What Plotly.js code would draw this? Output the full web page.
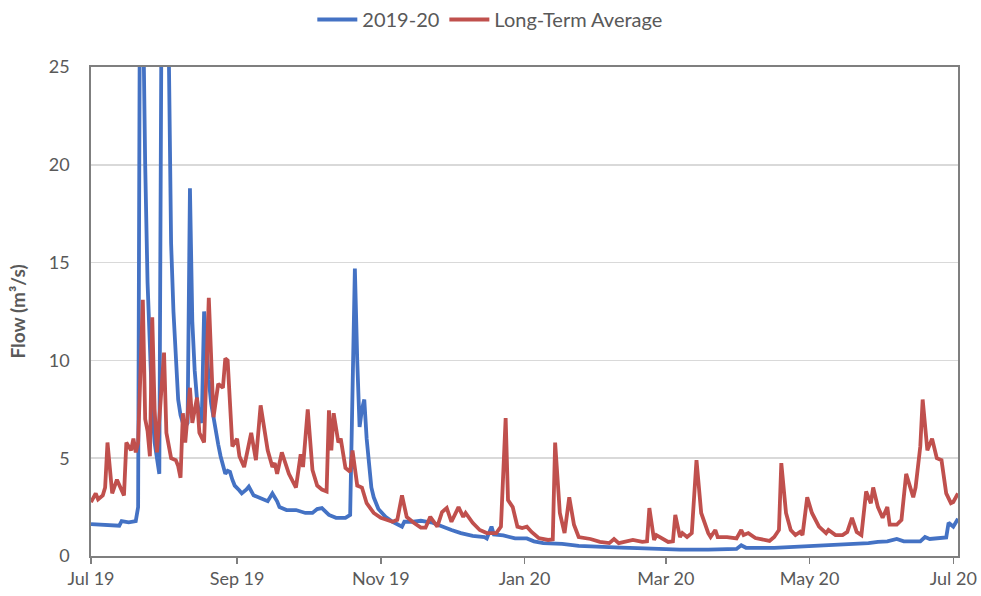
<!DOCTYPE html>
<html>
<head>
<meta charset="utf-8">
<script src="https://cdn.plot.ly/plotly-3.0.1.min.js"></script>
<style>html,body{margin:0;padding:0;background:#fff;}#chart{width:981px;height:596px;}</style>
</head>
<body>
<div id="chart"></div>
<script>
const dates2019 = ['2019-07-01','2019-07-07','2019-07-13','2019-07-14','2019-07-17','2019-07-20','2019-07-21','2019-07-22','2019-07-23','2019-07-24','2019-07-25','2019-07-26','2019-07-27','2019-07-28','2019-07-29','2019-07-30','2019-07-31','2019-08-01','2019-08-02','2019-08-03','2019-08-04','2019-08-05','2019-08-06','2019-08-07','2019-08-08','2019-08-09','2019-08-10','2019-08-11','2019-08-12','2019-08-13','2019-08-14','2019-08-15','2019-08-16','2019-08-17','2019-08-18','2019-08-19','2019-08-20','2019-08-21','2019-08-22','2019-08-23','2019-08-24','2019-08-25','2019-08-26','2019-08-27','2019-08-28','2019-08-29','2019-08-30','2019-08-31','2019-09-02','2019-09-03','2019-09-05','2019-09-06','2019-09-08','2019-09-10','2019-09-12','2019-09-14','2019-09-16','2019-09-18','2019-09-19','2019-09-22','2019-09-26','2019-09-30','2019-10-03','2019-10-05','2019-10-07','2019-10-10','2019-10-13','2019-10-17','2019-10-19','2019-10-20','2019-10-21','2019-10-22','2019-10-23','2019-10-24','2019-10-25','2019-10-26','2019-10-27','2019-10-28','2019-10-29','2019-10-31','2019-11-03','2019-11-06','2019-11-10','2019-11-11','2019-11-14','2019-11-18','2019-11-23','2019-11-27','2019-12-01','2019-12-05','2019-12-10','2019-12-15','2019-12-16','2019-12-18','2019-12-19','2019-12-23','2019-12-28','2020-01-02','2020-01-05','2020-01-09','2020-01-17','2020-01-24','2020-02-01','2020-02-11','2020-02-18','2020-02-26','2020-03-07','2020-03-19','2020-03-27','2020-03-31','2020-04-02','2020-04-04','2020-04-16','2020-04-24','2020-05-06','2020-05-16','2020-05-26','2020-05-30','2020-06-03','2020-06-07','2020-06-10','2020-06-17','2020-06-19','2020-06-21','2020-06-27','2020-06-28','2020-06-29','2020-07-01','2020-07-03'];
const flow2019 = [1.63,1.58,1.55,1.78,1.72,1.78,2.5,38,28,20,14,10,7.5,5.8,4.8,4.2,30,42,35,26,16,12.5,9.8,8,7.2,6.8,6.6,6.8,18.8,12,9.5,8,7.2,6.8,12.5,10.5,9,7.8,7.0,6.3,5.7,5.1,4.6,4.2,4.35,4.3,3.9,3.6,3.35,3.2,3.4,3.55,3.1,3.0,2.95,2.8,3.2,2.8,2.5,2.35,2.35,2.2,2.2,2.4,2.45,2.1,1.95,1.95,2.1,8,14.7,10,6.6,7.5,8.0,6.0,4.5,3.5,3.0,2.4,2.0,1.75,1.5,1.75,1.75,1.8,1.7,1.5,1.33,1.17,1.03,0.97,0.9,1.5,1.1,1.05,0.9,0.9,0.75,0.66,0.62,0.52,0.46,0.43,0.4,0.35,0.33,0.33,0.34,0.36,0.55,0.42,0.42,0.46,0.55,0.6,0.66,0.72,0.75,0.87,0.75,0.75,0.97,0.87,0.92,0.95,1.7,1.5,1.9];

const datesLTA = ['2019-07-01','2019-07-03','2019-07-04','2019-07-06','2019-07-07','2019-07-08','2019-07-10','2019-07-12','2019-07-15','2019-07-16','2019-07-18','2019-07-19','2019-07-20','2019-07-21','2019-07-23','2019-07-24','2019-07-25','2019-07-26','2019-07-27','2019-07-28','2019-07-29','2019-08-01','2019-08-02','2019-08-03','2019-08-04','2019-08-06','2019-08-07','2019-08-08','2019-08-09','2019-08-10','2019-08-12','2019-08-13','2019-08-15','2019-08-16','2019-08-18','2019-08-20','2019-08-22','2019-08-24','2019-08-26','2019-08-27','2019-08-28','2019-08-30','2019-09-01','2019-09-02','2019-09-04','2019-09-07','2019-09-09','2019-09-11','2019-09-14','2019-09-16','2019-09-17','2019-09-18','2019-09-20','2019-09-23','2019-09-26','2019-09-28','2019-09-29','2019-10-01','2019-10-03','2019-10-05','2019-10-07','2019-10-09','2019-10-10','2019-10-11','2019-10-12','2019-10-14','2019-10-15','2019-10-17','2019-10-19','2019-10-20','2019-10-22','2019-10-24','2019-10-26','2019-10-29','2019-11-01','2019-11-06','2019-11-08','2019-11-10','2019-11-12','2019-11-15','2019-11-18','2019-11-20','2019-11-22','2019-11-25','2019-11-27','2019-11-29','2019-12-01','2019-12-04','2019-12-06','2019-12-07','2019-12-10','2019-12-13','2019-12-16','2019-12-20','2019-12-22','2019-12-24','2019-12-25','2019-12-27','2019-12-29','2019-12-31','2020-01-02','2020-01-04','2020-01-07','2020-01-11','2020-01-13','2020-01-14','2020-01-16','2020-01-18','2020-01-20','2020-01-22','2020-01-24','2020-01-29','2020-02-02','2020-02-06','2020-02-08','2020-02-10','2020-02-16','2020-02-20','2020-02-22','2020-02-23','2020-02-25','2020-02-26','2020-03-02','2020-03-04','2020-03-05','2020-03-07','2020-03-08','2020-03-10','2020-03-12','2020-03-14','2020-03-16','2020-03-19','2020-03-20','2020-03-22','2020-03-23','2020-03-27','2020-03-31','2020-04-02','2020-04-03','2020-04-05','2020-04-08','2020-04-14','2020-04-16','2020-04-18','2020-04-19','2020-04-21','2020-04-23','2020-04-25','2020-04-27','2020-04-28','2020-04-30','2020-05-02','2020-05-05','2020-05-08','2020-05-09','2020-05-12','2020-05-15','2020-05-17','2020-05-19','2020-05-21','2020-05-23','2020-05-25','2020-05-27','2020-05-28','2020-05-30','2020-06-01','2020-06-03','2020-06-04','2020-06-07','2020-06-09','2020-06-11','2020-06-14','2020-06-15','2020-06-17','2020-06-18','2020-06-20','2020-06-22','2020-06-24','2020-06-26','2020-06-28','2020-06-30','2020-07-01','2020-07-03'];
const flowLTA = [2.75,3.2,2.9,3.1,3.5,5.8,3.2,3.9,3.1,5.8,5.4,6.0,5.3,5.8,13.1,7.0,6.4,5.1,12.2,7.5,5.3,10.4,6.3,5.6,5.0,4.9,4.6,4.0,7.3,5.8,8.6,6.8,8.1,6.3,5.8,13.2,7.1,8.8,8.6,10.1,10.0,5.6,6.0,5.1,4.55,6.3,4.9,7.7,5.4,4.55,4.75,4.2,5.3,4.2,3.5,5.2,4.55,7.5,4.4,3.6,3.4,3.3,7.45,5.4,7.3,5.8,6.0,4.5,4.3,5.4,3.6,3.5,2.7,2.2,1.95,1.75,1.85,3.1,2.0,1.7,1.45,1.45,2.0,1.5,2.25,2.45,1.75,2.5,2.0,2.2,1.7,1.33,1.17,1.17,1.5,7.05,2.86,2.5,1.5,1.43,1.5,1.23,0.92,0.82,0.85,5.8,2.2,1.17,3.0,1.6,0.97,0.87,0.72,0.66,0.87,0.66,0.82,0.72,0.75,2.45,0.82,1.07,0.72,0.75,2.1,0.97,1.17,0.97,1.17,4.9,2.2,1.17,0.97,1.33,0.97,0.97,0.9,1.33,1.07,1.17,0.92,0.77,0.97,1.33,4.75,2.2,1.33,1.07,1.23,1.07,3.0,2.2,1.5,1.17,1.33,1.07,1.07,1.23,1.95,1.23,1.07,3.3,2.7,3.5,2.5,1.95,2.5,1.6,1.6,1.85,4.2,3.0,3.5,5.6,8.0,5.4,6.0,5.0,4.9,3.2,2.7,2.76,3.2];

const yTicks = [0,5,10,15,20,25];
const font = 'Lato, "Open Sans", sans-serif';

const traces = [
  {x: dates2019, y: flow2019, name: '2019-20', type: 'scatter', mode: 'lines',
   line: {color: '#4472C4', width: 3.8}},
  {x: datesLTA, y: flowLTA, name: 'Long-Term Average', type: 'scatter', mode: 'lines',
   line: {color: '#C0504D', width: 3.8}}
];

const layout = {
  width: 981, height: 596,
  margin: {l: 91, r: 23, t: 67, b: 40},
  paper_bgcolor: '#ffffff', plot_bgcolor: '#ffffff',
  font: {family: font, size: 18, color: '#595959'},
  showlegend: true,
  legend: {orientation: 'h', x: 0.46, xanchor: 'center', y: 1.0, yref: 'container', yanchor: 'top',
           itemwidth: 40,
           font: {family: font, size: 20, color: '#595959'}, traceorder: 'normal'},
  xaxis: {
    type: 'date', range: ['2019-07-01', '2020-07-03'],
    tick0: '2019-07-01', dtick: 'M2', tickformat: '%b %y',
    ticks: 'outside', ticklen: 6, tickcolor: '#7f7f7f', tickwidth: 1.5,
    showline: true, linecolor: '#7f7f7f', linewidth: 1.8, mirror: true,
    showgrid: false, zeroline: false,
    tickfont: {family: font, size: 18, color: '#595959'}
  },
  yaxis: {
    range: [0, 25], tickvals: yTicks, ticks: '',
    showline: true, linecolor: '#7f7f7f', linewidth: 1.8, mirror: true,
    showgrid: true, gridcolor: '#d9d9d9', gridwidth: 1.5, zeroline: false,
    tickfont: {family: font, size: 18, color: '#595959'}, ticklabelstandoff: 16,
    title: {text: 'Flow (m³/s)', font: {family: font, size: 19, color: '#595959', weight: 'bold'}, standoff: 18}
  }
};

Plotly.newPlot('chart', traces, layout, {displayModeBar: false, staticPlot: true});
</script>
</body>
</html>
